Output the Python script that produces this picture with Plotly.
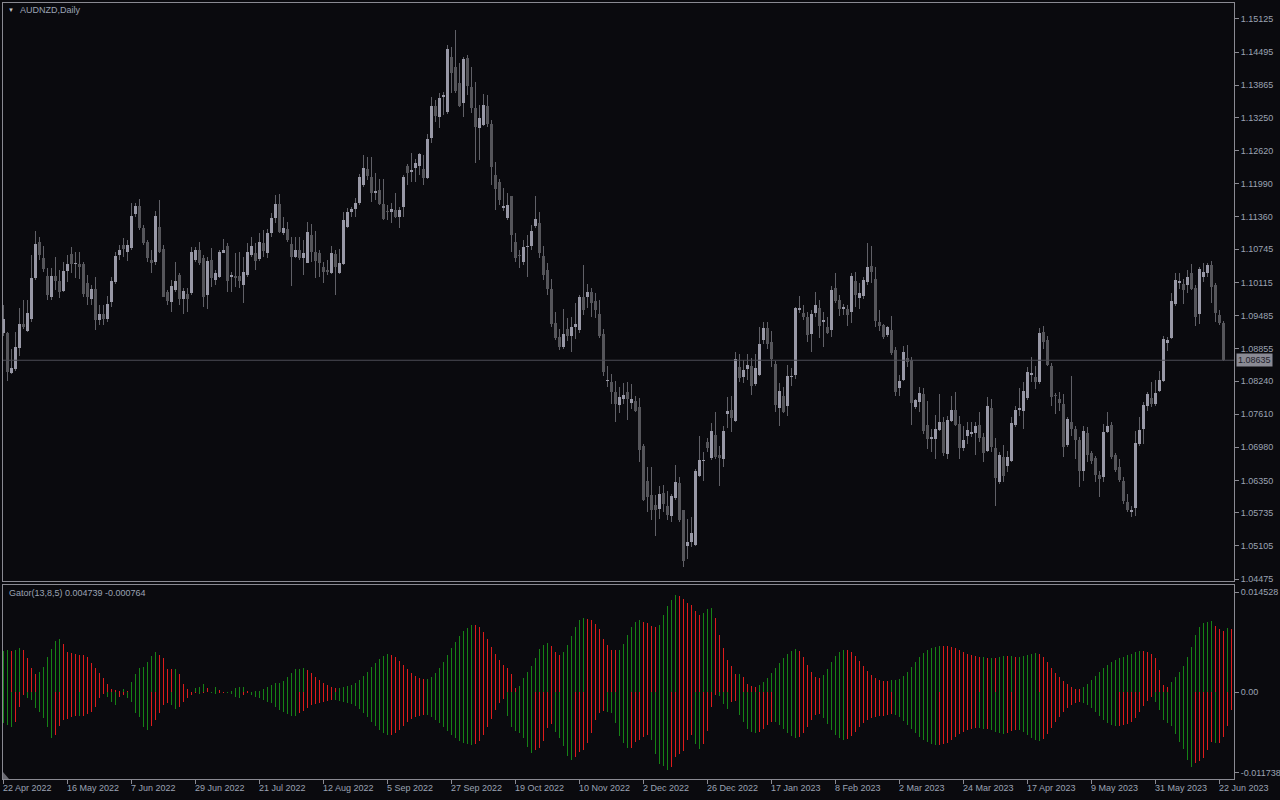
import plotly.graph_objects as go
import pandas as pd

# ---------------- data ----------------
dates = pd.bdate_range("2022-04-22", periods=306)

O = [1.09144,1.09144,1.08384,1.08460,1.08859,1.09334,1.09182,1.09429,1.10208,1.10892,
1.10588,1.10246,1.09847,1.10246,1.10151,1.09961,1.10341,1.10664,1.10474,1.10474,
1.10474,1.10113,1.09809,1.09999,1.09410,1.09524,1.09429,1.09752,1.10132,1.10645,
1.10835,1.10702,1.10778,1.11424,1.11576,1.11158,1.10892,1.10550,1.10512,1.11177,
1.10759,1.09942,1.09752,1.09980,1.10265,1.09809,1.09904,1.09923,1.10550,1.10740,
1.10588,1.09885,1.10550,1.10170,1.10227,1.10683,1.10816,1.10227,1.10246,1.10246,
1.10075,1.10265,1.10645,1.10683,1.10569,1.10873,1.10683,1.11063,1.11348,1.11614,
1.11063,1.11139,1.10854,1.10607,1.10740,1.10588,1.10493,1.11025,1.10702,1.10683,
1.10417,1.10360,1.10303,1.10664,1.10303,1.10474,1.11177,1.11462,1.11519,1.11633,
1.11975,1.12279,1.12127,1.11823,1.11880,1.11614,1.11481,1.11462,1.11500,1.11367,
1.11557,1.12336,1.12222,1.12298,1.12336,1.12279,1.12108,1.12868,1.13476,1.13267,
1.13647,1.13362,1.14407,1.14217,1.13913,1.13533,1.14388,1.13837,1.13438,1.13058,
1.13115,1.13476,1.13134,1.12165,1.12032,1.11538,1.11348,1.11766,1.10892,1.10645,
1.10512,1.10797,1.10816,1.11196,1.11253,1.10626,1.10360,1.09999,1.09353,1.09068,
1.08878,1.09220,1.09087,1.09258,1.09201,1.09847,1.09847,1.09942,1.09771,1.09524,
1.09125,1.08232,1.08213,1.08023,1.07776,1.07890,1.08023,1.07814,1.07852,1.07738,
1.06997,1.06332,1.06066,1.05876,1.05800,1.06104,1.05857,1.05667,1.06009,1.06294,
1.05781,1.05097,1.05173,1.05116,1.06427,1.06712,1.07073,1.06769,1.07206,1.06826,
1.06750,1.07605,1.07681,1.07472,1.08498,1.08308,1.08460,1.08517,1.08175,1.08346,
1.09011,1.09239,1.08973,1.08555,1.07719,1.07947,1.07757,1.08308,1.08346,1.09600,
1.09543,1.09467,1.09125,1.09543,1.09638,1.09372,1.09258,1.09201,1.10018,1.09790,
1.09619,1.09619,1.09562,1.10151,1.09828,1.09866,1.10132,1.10436,1.10189,1.09372,
1.09315,1.09106,1.09201,1.08821,1.08099,1.08251,1.08669,1.08631,1.07738,1.07833,
1.07985,1.07396,1.07130,1.07130,1.07301,1.07453,1.06845,1.07472,1.07681,1.07415,
1.06959,1.07187,1.07225,1.07244,1.07396,1.07168,1.06902,1.07719,1.06959,1.06313,
1.06788,1.06617,1.06712,1.07396,1.07681,1.07662,1.07909,1.08346,1.08308,1.08213,
1.09163,1.09011,1.08517,1.07966,1.07890,1.07795,1.07016,1.07453,1.07320,1.07111,
1.06522,1.07244,1.06864,1.06769,1.06446,1.06408,1.07263,1.07396,1.06826,1.06598,
1.06332,1.05933,1.05743,1.05819,1.07035,1.07320,1.07757,1.07909,1.07795,1.08042,
1.08232,1.08954,1.09049,1.09714,1.10113,1.10094,1.10075,1.10303,1.10018,1.09524,
1.10227,1.10303,1.10455,1.10075,1.09505,1.09353]

H = [1.09695,1.09163,1.08840,1.09163,1.09638,1.09790,1.09790,1.10645,1.11101,1.10987,
1.10816,1.10398,1.10398,1.10607,1.10360,1.10512,1.10645,1.10797,1.10702,1.10702,
1.10512,1.10265,1.10075,1.10227,1.09695,1.09695,1.09866,1.10227,1.10702,1.10835,
1.10968,1.10930,1.11633,1.11633,1.11709,1.11215,1.10930,1.10740,1.11481,1.11690,
1.10835,1.09980,1.10170,1.10512,1.10303,1.10018,1.10018,1.10797,1.10797,1.10892,
1.10645,1.10607,1.10778,1.10360,1.10740,1.10949,1.10873,1.10322,1.10683,1.10702,
1.10607,1.10873,1.10987,1.10873,1.11063,1.11120,1.11139,1.11443,1.11785,1.11804,
1.11367,1.11272,1.10987,1.10987,1.10987,1.10930,1.11272,1.11234,1.11101,1.10740,
1.10512,1.10550,1.10816,1.10740,1.10759,1.11462,1.11538,1.11557,1.11728,1.12184,
1.12545,1.12507,1.12507,1.12203,1.12089,1.12089,1.11595,1.11633,1.11823,1.11557,
1.12165,1.12374,1.12583,1.12469,1.12583,1.12545,1.12944,1.13647,1.13590,1.13723,
1.13742,1.14635,1.14597,1.14920,1.14293,1.14407,1.14445,1.14217,1.13932,1.13495,
1.13704,1.13685,1.13210,1.12412,1.12089,1.11918,1.11823,1.11766,1.11063,1.10740,
1.10930,1.11025,1.11215,1.11766,1.11462,1.10816,1.10493,1.10189,1.09562,1.09220,
1.09619,1.09448,1.09467,1.09733,1.09885,1.10455,1.10094,1.10018,1.09923,1.09790,
1.09220,1.08517,1.08365,1.08232,1.08118,1.08194,1.08213,1.08175,1.07947,1.07909,
1.07035,1.06598,1.06598,1.06066,1.06237,1.06256,1.06142,1.06085,1.06636,1.06408,
1.05781,1.05610,1.05648,1.06560,1.07187,1.06883,1.07149,1.07434,1.07643,1.06997,
1.07377,1.07928,1.07947,1.08783,1.08745,1.08631,1.08745,1.08669,1.08745,1.09258,
1.09372,1.09372,1.09182,1.08612,1.08194,1.08118,1.08536,1.08479,1.09657,1.09866,
1.09695,1.09562,1.09600,1.09942,1.09790,1.09562,1.09467,1.10056,1.10303,1.09885,
1.09714,1.09695,1.10303,1.10322,1.10113,1.10227,1.10873,1.10816,1.10417,1.09600,
1.09334,1.09277,1.09486,1.08878,1.08346,1.08897,1.08916,1.08688,1.07890,1.08118,
1.08099,1.07852,1.07320,1.07586,1.07985,1.07548,1.07567,1.07947,1.08023,1.07567,
1.07377,1.07453,1.07453,1.07453,1.07643,1.07244,1.07928,1.07890,1.07149,1.06883,
1.07016,1.06902,1.07548,1.07757,1.08099,1.08213,1.08498,1.08688,1.08517,1.09239,
1.09277,1.09087,1.08574,1.08004,1.08023,1.07985,1.07548,1.08327,1.07377,1.07168,
1.07377,1.07358,1.06902,1.06807,1.06522,1.07415,1.07643,1.07453,1.06864,1.06750,
1.06408,1.06085,1.05857,1.07282,1.07548,1.07833,1.08023,1.08213,1.08251,1.08422,
1.09087,1.09068,1.09923,1.10303,1.10303,1.10189,1.10360,1.10474,1.10075,1.10417,
1.10493,1.10493,1.10531,1.10113,1.09600,1.09391]

L = [1.09087,1.08232,1.08365,1.08422,1.08707,1.09220,1.09163,1.09372,1.10170,1.10550,
1.10322,1.09790,1.09790,1.09980,1.09828,1.09942,1.10132,1.10303,1.10208,1.10189,
1.09847,1.09695,1.09695,1.09201,1.09315,1.09315,1.09372,1.09657,1.10094,1.10550,
1.10607,1.10531,1.10740,1.11367,1.11120,1.10835,1.10512,1.10303,1.10455,1.10683,
1.09847,1.09695,1.09562,1.09942,1.09695,1.09524,1.09562,1.09885,1.10512,1.10455,
1.09657,1.09619,1.10037,1.10075,1.10208,1.10683,1.09942,1.09942,1.10037,1.10018,
1.09733,1.10227,1.10607,1.10360,1.10531,1.10607,1.10588,1.10987,1.11253,1.11063,
1.11025,1.10892,1.10056,1.10588,1.10550,1.10265,1.10493,1.10512,1.10208,1.10227,
1.10113,1.10265,1.10284,1.09885,1.10284,1.10455,1.11158,1.11367,1.11367,1.11595,
1.11937,1.12070,1.11652,1.11690,1.11595,1.11310,1.11310,1.11253,1.11348,1.11158,
1.11367,1.11975,1.12032,1.12032,1.12165,1.11975,1.12089,1.12773,1.13172,1.13058,
1.13305,1.13324,1.13723,1.13723,1.13457,1.13267,1.13685,1.13343,1.12393,1.12450,
1.13096,1.13077,1.11975,1.11500,1.11595,1.11481,1.11310,1.10702,1.10512,1.10398,
1.10455,1.10227,1.10740,1.11158,1.10588,1.10170,1.09885,1.09258,1.09011,1.08821,
1.08840,1.08992,1.08783,1.09030,1.09144,1.09505,1.09638,1.09467,1.09448,1.09049,
1.08327,1.08118,1.07795,1.07453,1.07624,1.07795,1.07491,1.07700,1.07643,1.06693,
1.05952,1.05743,1.05591,1.05287,1.05610,1.05743,1.05591,1.05553,1.05971,1.05553,
1.04698,1.04850,1.05078,1.05097,1.06408,1.06332,1.06883,1.06731,1.06750,1.06237,
1.06598,1.07339,1.07263,1.07453,1.08213,1.08194,1.08251,1.07966,1.08137,1.08327,
1.08935,1.08840,1.08498,1.07643,1.07377,1.07624,1.07567,1.08137,1.08270,1.09543,
1.09410,1.08973,1.08783,1.09467,1.09049,1.08878,1.09125,1.09068,1.09733,1.09486,
1.09505,1.09277,1.09353,1.09657,1.09619,1.09809,1.10075,1.10113,1.09258,1.09182,
1.09030,1.09068,1.08726,1.07947,1.07947,1.08232,1.08498,1.07396,1.07700,1.07643,
1.07225,1.06940,1.06883,1.06750,1.07282,1.06807,1.06750,1.07453,1.07377,1.06750,
1.06902,1.07035,1.07168,1.06826,1.07073,1.06693,1.06883,1.06883,1.05857,1.06275,
1.06313,1.06503,1.06693,1.07358,1.07567,1.07320,1.07871,1.08213,1.08080,1.08175,
1.08840,1.08517,1.07757,1.07605,1.07662,1.06788,1.06978,1.07187,1.06750,1.06218,
1.06332,1.06693,1.06655,1.06313,1.06028,1.06313,1.07244,1.06750,1.06503,1.06313,
1.05895,1.05743,1.05648,1.05667,1.06997,1.07035,1.07662,1.07738,1.07757,1.08023,
1.08213,1.08802,1.09030,1.09676,1.09999,1.09714,1.09923,1.09980,1.09296,1.09334,
1.10132,1.10227,1.09733,1.09372,1.09315,1.08630]

C = [1.09429,1.08403,1.08479,1.08878,1.09334,1.09258,1.09543,1.10208,1.10854,1.10645,
1.10379,1.09885,1.10246,1.10151,1.09942,1.10341,1.10474,1.10474,1.10493,1.10417,
1.09904,1.09847,1.09999,1.09410,1.09524,1.09429,1.09714,1.10151,1.10626,1.10740,
1.10759,1.10835,1.11386,1.11576,1.11158,1.10873,1.10588,1.10493,1.11386,1.10702,
1.09847,1.09771,1.10056,1.10151,1.09809,1.09961,1.09809,1.10702,1.10740,1.10493,
1.09847,1.10531,1.10208,1.10303,1.10702,1.10740,1.10151,1.10265,1.10208,1.10151,
1.10322,1.10702,1.10816,1.10531,1.10892,1.10721,1.11063,1.11348,1.11614,1.11082,
1.11158,1.10930,1.10607,1.10740,1.10588,1.10683,1.11082,1.10702,1.10531,1.10493,
1.10322,1.10322,1.10683,1.10417,1.10493,1.11310,1.11462,1.11519,1.11633,1.12127,
1.12298,1.12146,1.11823,1.11861,1.11614,1.11329,1.11462,1.11519,1.11367,1.11500,
1.12127,1.12203,1.12260,1.12393,1.12564,1.12108,1.12849,1.13476,1.13286,1.13628,
1.13685,1.14559,1.14103,1.13761,1.13476,1.14369,1.13856,1.13438,1.13077,1.13248,
1.13495,1.13134,1.12317,1.11899,1.11690,1.11576,1.11595,1.11025,1.10588,1.10626,
1.10797,1.10816,1.11101,1.11329,1.10683,1.10265,1.09999,1.09334,1.09049,1.08878,
1.09125,1.09087,1.09258,1.09334,1.09847,1.09600,1.09942,1.09733,1.09600,1.09087,
1.08403,1.08251,1.08023,1.07795,1.07928,1.07966,1.07890,1.07890,1.07662,1.06921,
1.05971,1.06028,1.05781,1.05781,1.06085,1.05895,1.05686,1.06047,1.06313,1.05591,
1.04812,1.05173,1.05344,1.06522,1.06731,1.06731,1.06959,1.07282,1.06788,1.06769,
1.07282,1.07662,1.07529,1.08650,1.08289,1.08441,1.08536,1.08137,1.08479,1.08935,
1.09239,1.08935,1.08650,1.07776,1.08042,1.07643,1.08327,1.08327,1.09638,1.09638,
1.09467,1.09106,1.09524,1.09695,1.09277,1.09410,1.09144,1.09980,1.09771,1.09619,
1.09657,1.09505,1.10246,1.09885,1.09923,1.10170,1.10417,1.10322,1.09391,1.09277,
1.09068,1.09258,1.08764,1.08023,1.08232,1.08783,1.08593,1.07814,1.07871,1.08004,
1.07282,1.07130,1.07168,1.07320,1.07453,1.06864,1.07491,1.07681,1.07396,1.06959,
1.07111,1.07301,1.07263,1.07377,1.07149,1.06864,1.07757,1.06978,1.06389,1.06826,
1.06427,1.06788,1.07434,1.07681,1.07719,1.08042,1.08403,1.08384,1.08213,1.09144,
1.08973,1.08536,1.07928,1.07947,1.07814,1.06978,1.07510,1.07320,1.07111,1.06522,
1.07282,1.06826,1.06712,1.06446,1.06370,1.07263,1.07377,1.06788,1.06541,1.06351,
1.05952,1.05781,1.05781,1.07054,1.07301,1.07776,1.07985,1.07795,1.08004,1.08251,
1.09030,1.09011,1.09771,1.10170,1.10151,1.09980,1.10227,1.09999,1.09467,1.10379,
1.10322,1.10455,1.10037,1.09543,1.09353,1.08635]

# they run two bars past the last candle because of the indicator's forward shift.
gator_up = [0.00599,0.00613,0.00599,0.00613,0.00642,0.00613,0.00496,0.00350,0.00263,0.00292,
0.00365,0.00511,0.00628,0.00745,0.00774,0.00701,0.00584,0.00569,0.00555,0.00540,
0.00538,0.00511,0.00423,0.00350,0.00277,0.00204,0.00117,0.00044,0.00029,0.00015,
0.00044,0.00015,0.00146,0.00263,0.00350,0.00365,0.00438,0.00526,0.00584,0.00540,
0.00496,0.00336,0.00334,0.00338,0.00263,0.00117,0.00044,0.00003,0.00058,0.00073,
0.00117,0.00058,0.00003,0.00073,0.00029,0.00007,0.00006,0.00015,0.00058,0.00073,
0.00075,0.00015,0.00007,0.00015,0.00016,0.00044,0.00073,0.00102,0.00131,0.00133,
0.00161,0.00219,0.00277,0.00336,0.00338,0.00350,0.00321,0.00277,0.00219,0.00175,
0.00131,0.00102,0.00073,0.00058,0.00060,0.00073,0.00088,0.00102,0.00131,0.00175,
0.00234,0.00292,0.00365,0.00423,0.00482,0.00526,0.00555,0.00540,0.00511,0.00453,
0.00394,0.00336,0.00277,0.00234,0.00204,0.00190,0.00192,0.00219,0.00277,0.00350,
0.00438,0.00540,0.00642,0.00730,0.00818,0.00891,0.00934,0.00978,0.00976,0.00949,
0.00876,0.00774,0.00657,0.00555,0.00467,0.00394,0.00350,0.00263,0.00058,0.00088,
0.00204,0.00292,0.00380,0.00496,0.00628,0.00686,0.00715,0.00672,0.00584,0.00540,
0.00584,0.00686,0.00818,0.00949,0.01051,0.01080,0.01066,0.01051,0.00993,0.00920,
0.00774,0.00686,0.00613,0.00611,0.00615,0.00701,0.00832,0.00949,0.01022,0.01051,
0.01022,0.01007,0.00964,0.00949,0.00978,0.01124,0.01256,0.01343,0.01416,0.01402,
0.01358,0.01299,0.01270,0.01183,0.01124,0.01153,0.01212,0.01214,0.01080,0.00832,
0.00642,0.00467,0.00380,0.00263,0.00265,0.00219,0.00117,0.00088,0.00073,0.00102,
0.00146,0.00204,0.00277,0.00350,0.00423,0.00496,0.00555,0.00599,0.00628,0.00599,
0.00511,0.00394,0.00292,0.00219,0.00204,0.00248,0.00336,0.00438,0.00526,0.00584,
0.00613,0.00611,0.00584,0.00526,0.00453,0.00380,0.00307,0.00248,0.00204,0.00175,
0.00161,0.00160,0.00175,0.00177,0.00190,0.00234,0.00292,0.00365,0.00438,0.00511,
0.00569,0.00613,0.00642,0.00657,0.00672,0.00670,0.00668,0.00657,0.00642,0.00613,
0.00584,0.00555,0.00540,0.00526,0.00511,0.00513,0.00496,0.00498,0.00497,0.00511,
0.00526,0.00524,0.00525,0.00511,0.00512,0.00526,0.00540,0.00555,0.00569,0.00555,
0.00511,0.00438,0.00350,0.00277,0.00219,0.00161,0.00117,0.00073,0.00044,0.00043,
0.00073,0.00117,0.00175,0.00234,0.00292,0.00350,0.00394,0.00438,0.00467,0.00496,
0.00511,0.00540,0.00555,0.00584,0.00599,0.00597,0.00584,0.00555,0.00496,0.00321,
0.00102,0.00073,0.00146,0.00219,0.00292,0.00380,0.00511,0.00657,0.00832,0.00949,
0.01007,0.01022,0.01037,0.00964,0.00920,0.00891,0.00934,0.00920]

gator_lo = [-0.00453,-0.00482,-0.00511,-0.00438,-0.00219,-0.00044,-0.00088,-0.00117,-0.00234,-0.00292,
-0.00380,-0.00511,-0.00672,-0.00628,-0.00496,-0.00409,-0.00394,-0.00365,-0.00350,-0.00352,
-0.00349,-0.00321,-0.00292,-0.00219,-0.00088,-0.00029,-0.00073,-0.00146,-0.00190,-0.00073,
-0.00044,-0.00088,-0.00146,-0.00307,-0.00365,-0.00511,-0.00555,-0.00496,-0.00409,-0.00307,
-0.00190,-0.00161,-0.00190,-0.00248,-0.00219,-0.00146,-0.00088,-0.00044,-0.00015,-0.00029,
-0.00015,-0.00003,-0.00015,-0.00029,-0.00015,-0.00014,-0.00015,-0.00029,-0.00073,-0.00088,
-0.00044,-0.00015,-0.00044,-0.00073,-0.00088,-0.00117,-0.00146,-0.00161,-0.00219,-0.00263,
-0.00292,-0.00321,-0.00350,-0.00352,-0.00307,-0.00277,-0.00234,-0.00190,-0.00175,-0.00161,
-0.00146,-0.00131,-0.00117,-0.00118,-0.00131,-0.00146,-0.00161,-0.00175,-0.00204,-0.00248,
-0.00307,-0.00365,-0.00438,-0.00496,-0.00555,-0.00599,-0.00628,-0.00626,-0.00599,-0.00555,
-0.00496,-0.00438,-0.00394,-0.00365,-0.00350,-0.00336,-0.00338,-0.00365,-0.00409,-0.00453,
-0.00511,-0.00569,-0.00628,-0.00672,-0.00715,-0.00745,-0.00759,-0.00774,-0.00759,-0.00715,
-0.00628,-0.00511,-0.00394,-0.00263,-0.00161,-0.00102,-0.00350,-0.00511,-0.00569,-0.00599,
-0.00672,-0.00803,-0.00891,-0.00847,-0.00818,-0.00715,-0.00526,-0.00467,-0.00584,-0.00672,
-0.00788,-0.00934,-0.00993,-0.00949,-0.00876,-0.00847,-0.00745,-0.00599,-0.00409,-0.00307,
-0.00277,-0.00292,-0.00307,-0.00453,-0.00642,-0.00745,-0.00818,-0.00816,-0.00730,-0.00701,
-0.00657,-0.00628,-0.00701,-0.00905,-0.01051,-0.01080,-0.01139,-0.01095,-0.00949,-0.00905,
-0.00861,-0.00701,-0.00628,-0.00759,-0.00832,-0.00759,-0.00569,-0.00219,-0.00044,-0.00058,
-0.00175,-0.00248,-0.00146,-0.00131,-0.00336,-0.00438,-0.00540,-0.00584,-0.00599,-0.00584,
-0.00540,-0.00482,-0.00438,-0.00440,-0.00482,-0.00540,-0.00599,-0.00642,-0.00672,-0.00657,
-0.00599,-0.00511,-0.00409,-0.00336,-0.00321,-0.00380,-0.00467,-0.00555,-0.00628,-0.00672,
-0.00701,-0.00686,-0.00642,-0.00584,-0.00511,-0.00453,-0.00409,-0.00380,-0.00365,-0.00350,
-0.00348,-0.00336,-0.00321,-0.00336,-0.00365,-0.00423,-0.00482,-0.00540,-0.00599,-0.00657,
-0.00701,-0.00730,-0.00759,-0.00774,-0.00772,-0.00759,-0.00745,-0.00701,-0.00657,-0.00613,
-0.00584,-0.00555,-0.00540,-0.00526,-0.00527,-0.00540,-0.00539,-0.00555,-0.00584,-0.00599,
-0.00613,-0.00599,-0.00569,-0.00555,-0.00556,-0.00584,-0.00628,-0.00672,-0.00701,-0.00715,
-0.00686,-0.00613,-0.00526,-0.00438,-0.00365,-0.00292,-0.00234,-0.00190,-0.00161,-0.00146,
-0.00161,-0.00190,-0.00234,-0.00292,-0.00350,-0.00409,-0.00453,-0.00482,-0.00496,-0.00495,
-0.00482,-0.00467,-0.00438,-0.00380,-0.00292,-0.00204,-0.00131,-0.00073,-0.00146,-0.00263,
-0.00409,-0.00453,-0.00496,-0.00613,-0.00730,-0.00832,-0.00993,-0.01095,-0.01037,-0.01007,
-0.00964,-0.00847,-0.00730,-0.00745,-0.00744,-0.00657,-0.00496,-0.00263]

price_ticks = [1.15125,1.14495,1.13865,1.13250,1.12620,1.11990,1.11360,1.10745,1.10115,
               1.09485,1.08855,1.08240,1.07610,1.06980,1.06350,1.05735,1.05105,1.04475]
gator_ticks = [0.014528, 0.0, -0.011738]
gator_tick_text = ["0.014528", "0.00", "-0.011738"]
symbol_title = "AUDNZD,Daily"
gator_title = "Gator(13,8,5) 0.004739 -0.000764"

# ---------------- style ----------------
BG = "#0a0a0e"
BORDER = "#8a8a92"
TXT = "#9ba3b3"
BULL = "#9898a6"
BEAR = "#55555a"
WICK = "#606067"
GREEN = "#168216"
RED = "#dc1c1c"
FONT = "Liberation Sans, Arial, sans-serif"

n = len(C)
idx = list(range(n))
Hc = [max(h, o, c) for h, o, c in zip(H, O, C)]
Lc = [min(l, o, c) for l, o, c in zip(L, O, C)]

fig = go.Figure()

# wicks
fig.add_trace(go.Bar(x=idx, y=[h - l for h, l in zip(Hc, Lc)], base=Lc, width=0.25,
                     marker=dict(color=WICK, line=dict(width=0)), hoverinfo="skip",
                     xaxis="x", yaxis="y"))
# bodies
MINB = 0.00012
bx, bb, bh, bc = [], [], [], []
for i in idx:
    lo_ = min(O[i], C[i]); hi_ = max(O[i], C[i])
    bx.append(i); bb.append(lo_); bh.append(max(hi_ - lo_, MINB))
    bc.append(BULL if C[i] >= O[i] else BEAR)
fig.add_trace(go.Bar(x=bx, y=bh, base=bb, width=0.75,
                     marker=dict(color=bc, line=dict(width=0)), hoverinfo="skip",
                     xaxis="x", yaxis="y"))

# gator histograms, coloured by change vs previous bar
up_col = [GREEN] + [GREEN if gator_up[i] > gator_up[i-1] else RED for i in range(1, len(gator_up))]
lo_col = [GREEN] + [GREEN if abs(gator_lo[i]) > abs(gator_lo[i-1]) else RED for i in range(1, len(gator_lo))]
fig.add_trace(go.Bar(x=list(range(len(gator_up))), y=gator_up, width=0.25,
                     marker=dict(color=up_col, line=dict(width=0)),
                     hoverinfo="skip", xaxis="x2", yaxis="y2"))
fig.add_trace(go.Bar(x=list(range(len(gator_lo))), y=gator_lo, width=0.25,
                     marker=dict(color=lo_col, line=dict(width=0)),
                     hoverinfo="skip", xaxis="x2", yaxis="y2"))

W, Ht = 1280, 800
ml, mr, mt, mb = 3, 46, 3, 21
ph = Ht - mt - mb
def py(pix):  # pixel row -> paper y
    return (Ht - mb - pix) / ph
def px(pix):
    return (pix - ml) / (W - ml - mr)

xr = [-0.125, 307.625]
axis_common = dict(showgrid=False, zeroline=False, showline=True, mirror=True,
                   linecolor=BORDER, linewidth=1)

fig.update_layout(
    width=W, height=Ht, margin=dict(l=ml, r=mr, t=mt, b=mb, autoexpand=False),
    paper_bgcolor=BG, plot_bgcolor=BG, showlegend=False, barmode="overlay",
    bargap=0, font=dict(family=FONT, size=9, color=TXT),
    xaxis=dict(domain=[0, 1], range=xr, anchor="y", showticklabels=False, ticks="", **axis_common),
    yaxis=dict(domain=[py(581), 1], range=[1.04437, 1.15429], side="right", anchor="x",
               tickvals=price_ticks, ticktext=[f"{v:.5f}" for v in price_ticks],
               ticks="outside", ticklen=4, tickcolor=BORDER,
               tickfont=dict(family=FONT, size=9, color=TXT), **axis_common),
    xaxis2=dict(domain=[0, 1], range=xr, anchor="y2", showticklabels=False,
                tickvals=list(range(0, n, 16)), ticks="outside", ticklen=4, tickcolor=BORDER,
                **axis_common),
    yaxis2=dict(domain=[0, py(585)], range=[-0.01264, 0.01555], side="right", anchor="x2",
                tickvals=gator_ticks, ticktext=gator_tick_text,
                ticks="outside", ticklen=4, tickcolor=BORDER,
                tickfont=dict(family=FONT, size=9, color=TXT), **axis_common),
)

# current price line + label
fig.add_shape(type="line", xref="paper", x0=0, x1=1, yref="y", y0=C[-1], y1=C[-1],
              line=dict(color="#4c4c56", width=1))
fig.add_annotation(xref="paper", x=1, xanchor="left", xshift=2, yref="y", y=C[-1],
                   text=f"{C[-1]:.5f}", showarrow=False, bgcolor="#8a8a94",
                   font=dict(family=FONT, size=9, color="#20202a"), borderpad=1)

# small scroll marker in the lower-left corner of the indicator pane
fig.add_shape(type="path", xref="paper", yref="paper",
              path=f"M {px(3)},{py(772)} L {px(3)},{py(779)} L {px(9)},{py(779)} Z",
              fillcolor="#6a6a72", line=dict(width=0))

# date labels (left aligned at tick)
for k in range(0, n, 16):
    fig.add_annotation(xref="x2", x=k, yref="paper", y=py(788), xanchor="left", yanchor="middle",
                       xshift=-3, text=dates[k].strftime("%-d %b %Y"), showarrow=False,
                       font=dict(family=FONT, size=9, color=TXT))

# titles
fig.add_annotation(xref="paper", x=px(6), yref="paper", y=py(10), xanchor="left", yanchor="middle",
                   text="▼", showarrow=False, font=dict(family=FONT, size=6, color="#c8c8d0"))
fig.add_annotation(xref="paper", x=px(18), yref="paper", y=py(10), xanchor="left", yanchor="middle",
                   text=symbol_title, showarrow=False, font=dict(family=FONT, size=9, color=TXT))
fig.add_annotation(xref="paper", x=px(7), yref="paper", y=py(593), xanchor="left", yanchor="middle",
                   text=gator_title, showarrow=False, font=dict(family=FONT, size=9, color=TXT))

fig.write_html("out.html", config={"displayModeBar": False, "staticPlot": True},
               post_script="document.body.style.margin='0';"
               "document.body.style.background='#0a0a0e';document.body.style.overflow='hidden';")
